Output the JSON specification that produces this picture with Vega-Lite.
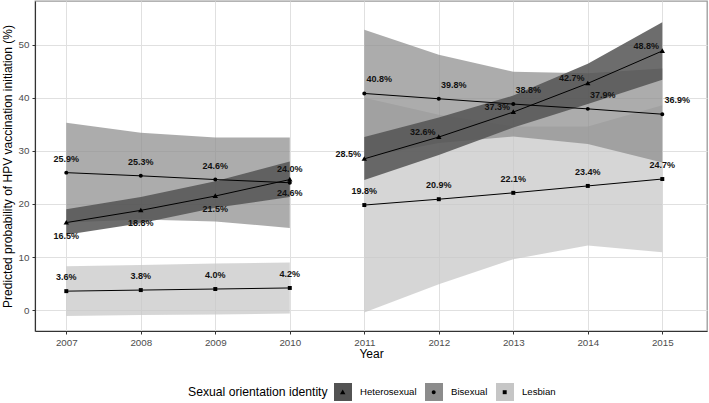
{
  "$schema": "https://vega.github.io/schema/vega-lite/v6.json",
  "width": 672,
  "height": 330,
  "autosize": {"type": "none"},
  "padding": {"left": 35, "top": 1, "right": 2, "bottom": 72},
  "background": "white",
  "data": {
    "values": [
      {"year": 2007, "period": "2007-2010", "group": "Heterosexual", "p": 16.5, "lo": 14.2, "hi": 19.0},
      {"year": 2008, "period": "2007-2010", "group": "Heterosexual", "p": 18.8, "lo": 16.4, "hi": 21.3},
      {"year": 2009, "period": "2007-2010", "group": "Heterosexual", "p": 21.5, "lo": 19.3, "hi": 24.3},
      {"year": 2010, "period": "2007-2010", "group": "Heterosexual", "p": 24.6, "lo": 21.3, "hi": 28.0},
      {"year": 2011, "period": "2011-2015", "group": "Heterosexual", "p": 28.5, "lo": 24.5, "hi": 32.6},
      {"year": 2012, "period": "2011-2015", "group": "Heterosexual", "p": 32.6, "lo": 29.2, "hi": 36.3},
      {"year": 2013, "period": "2011-2015", "group": "Heterosexual", "p": 37.3, "lo": 34.4, "hi": 40.4},
      {"year": 2014, "period": "2011-2015", "group": "Heterosexual", "p": 42.7, "lo": 38.8, "hi": 46.4},
      {"year": 2015, "period": "2011-2015", "group": "Heterosexual", "p": 48.8, "lo": 43.4, "hi": 54.2},
      {"year": 2007, "period": "2007-2010", "group": "Bisexual", "p": 25.9, "lo": 16.5, "hi": 35.3},
      {"year": 2008, "period": "2007-2010", "group": "Bisexual", "p": 25.3, "lo": 17.1, "hi": 33.4},
      {"year": 2009, "period": "2007-2010", "group": "Bisexual", "p": 24.6, "lo": 16.7, "hi": 32.5},
      {"year": 2010, "period": "2007-2010", "group": "Bisexual", "p": 24.0, "lo": 15.5, "hi": 32.5},
      {"year": 2011, "period": "2011-2015", "group": "Bisexual", "p": 40.8, "lo": 28.8, "hi": 52.8},
      {"year": 2012, "period": "2011-2015", "group": "Bisexual", "p": 39.8, "lo": 31.5, "hi": 48.1},
      {"year": 2013, "period": "2011-2015", "group": "Bisexual", "p": 38.8, "lo": 32.7, "hi": 44.9},
      {"year": 2014, "period": "2011-2015", "group": "Bisexual", "p": 37.9, "lo": 31.3, "hi": 44.6},
      {"year": 2015, "period": "2011-2015", "group": "Bisexual", "p": 36.9, "lo": 27.8, "hi": 45.5},
      {"year": 2007, "period": "2007-2010", "group": "Lesbian", "p": 3.6, "lo": -1.1, "hi": 8.3},
      {"year": 2008, "period": "2007-2010", "group": "Lesbian", "p": 3.8, "lo": -0.9, "hi": 8.5},
      {"year": 2009, "period": "2007-2010", "group": "Lesbian", "p": 4.0, "lo": -0.8, "hi": 8.8},
      {"year": 2010, "period": "2007-2010", "group": "Lesbian", "p": 4.2, "lo": -0.6, "hi": 9.0},
      {"year": 2011, "period": "2011-2015", "group": "Lesbian", "p": 19.8, "lo": -0.4, "hi": 40.0},
      {"year": 2012, "period": "2011-2015", "group": "Lesbian", "p": 20.9, "lo": 4.9, "hi": 36.8},
      {"year": 2013, "period": "2011-2015", "group": "Lesbian", "p": 22.1, "lo": 9.6, "hi": 34.6},
      {"year": 2014, "period": "2011-2015", "group": "Lesbian", "p": 23.4, "lo": 12.2, "hi": 34.6},
      {"year": 2015, "period": "2011-2015", "group": "Lesbian", "p": 24.7, "lo": 10.9, "hi": 38.6}
    ]
  },
  "encoding": {
    "x": {
      "field": "year",
      "type": "quantitative",
      "scale": {"domain": [2006.58, 2015.6], "nice": false, "zero": false},
      "axis": {
        "title": "Year",
        "values": [2007, 2008, 2009, 2010, 2011, 2012, 2013, 2014, 2015],
        "format": "d",
        "titlePadding": 2
      }
    }
  },
  "layer": [
    {
      "transform": [{"filter": "datum.group == 'Lesbian'"}],
      "mark": {"type": "area", "fillOpacity": 0.72, "strokeWidth": 0},
      "encoding": {
        "y": {"field": "lo", "type": "quantitative", "title": "Predicted probability of HPV vaccination initiation (%)", "scale": {"domain": [-3.9, 58.2], "nice": false, "zero": false}, "axis": {"values": [0, 10, 20, 30, 40, 50], "titlePadding": 4}},
        "y2": {"field": "hi"},
        "detail": {"field": "period"},
        "fill": {
          "field": "group",
          "type": "nominal",
          "scale": {"domain": ["Heterosexual", "Bisexual", "Lesbian"], "range": ["#535353", "#8c8c8c", "#c6c6c6"]},
          "legend": {"title": "Sexual orientation identity"}
        }
      }
    },
    {
      "transform": [{"filter": "datum.group == 'Bisexual'"}],
      "mark": {"type": "area", "fillOpacity": 0.72, "strokeWidth": 0},
      "encoding": {
        "y": {"field": "lo", "type": "quantitative", "title": "Predicted probability of HPV vaccination initiation (%)"},
        "y2": {"field": "hi"},
        "detail": {"field": "period"},
        "fill": {"field": "group", "type": "nominal"}
      }
    },
    {
      "transform": [{"filter": "datum.group == 'Heterosexual'"}],
      "mark": {"type": "area", "fillOpacity": 0.85, "strokeWidth": 0},
      "encoding": {
        "y": {"field": "lo", "type": "quantitative", "title": "Predicted probability of HPV vaccination initiation (%)"},
        "y2": {"field": "hi"},
        "detail": {"field": "period"},
        "fill": {"field": "group", "type": "nominal"}
      }
    },
    {
      "mark": {"type": "line", "color": "black", "strokeWidth": 1},
      "encoding": {
        "y": {"field": "p", "type": "quantitative", "title": "Predicted probability of HPV vaccination initiation (%)"},
        "detail": [{"field": "group"}, {"field": "period"}]
      }
    },
    {
      "mark": {"type": "point", "filled": true, "color": "black", "size": 324, "opacity": 1, "strokeWidth": 0},
      "encoding": {
        "y": {"field": "p", "type": "quantitative", "title": "Predicted probability of HPV vaccination initiation (%)"},
        "shape": {
          "field": "group",
          "type": "nominal",
          "sort": ["Heterosexual", "Bisexual", "Lesbian"],
          "scale": {"range": [
            "M0,-0.3L0.3,0.22L-0.3,0.22Z",
            "M0.22,0A0.22,0.22,0,1,1,-0.22,0A0.22,0.22,0,1,1,0.22,0Z",
            "M-0.22,-0.22H0.22V0.22H-0.22Z"
          ]},
          "legend": {
            "title": null,
            "legendX": 298.7,
            "labelOpacity": 0,
            "symbolFillColor": "black",
            "symbolStrokeColor": "transparent"
          }
        }
      }
    },
    {
      "transform": [{"filter": "(datum.period == '2007-2010' && datum.group != 'Heterosexual') || (datum.period == '2011-2015' && datum.group == 'Lesbian')"}],
      "mark": {"type": "text", "font": "Liberation Sans", "fontSize": 9, "fontWeight": "bold", "color": "#111111", "dy": -14},
      "encoding": {
        "y": {"field": "p", "type": "quantitative", "title": "Predicted probability of HPV vaccination initiation (%)"},
        "text": {"value": {"expr": "format(datum.p, '.1f') + '%'"}}
      }
    },
    {
      "transform": [{"filter": "datum.period == '2007-2010' && datum.group == 'Heterosexual'"}],
      "mark": {"type": "text", "font": "Liberation Sans", "fontSize": 9, "fontWeight": "bold", "color": "#111111", "dy": 13},
      "encoding": {
        "y": {"field": "p", "type": "quantitative", "title": "Predicted probability of HPV vaccination initiation (%)"},
        "text": {"value": {"expr": "format(datum.p, '.1f') + '%'"}}
      }
    },
    {
      "transform": [{"filter": "datum.period == '2011-2015' && datum.group == 'Bisexual'"}],
      "mark": {"type": "text", "font": "Liberation Sans", "fontSize": 9, "fontWeight": "bold", "color": "#111111", "dx": 15, "dy": -14},
      "encoding": {
        "y": {"field": "p", "type": "quantitative", "title": "Predicted probability of HPV vaccination initiation (%)"},
        "text": {"value": {"expr": "format(datum.p, '.1f') + '%'"}}
      }
    },
    {
      "transform": [{"filter": "datum.period == '2011-2015' && datum.group == 'Heterosexual'"}],
      "mark": {"type": "text", "font": "Liberation Sans", "fontSize": 9, "fontWeight": "bold", "color": "#111111", "dx": -16, "dy": -5},
      "encoding": {
        "y": {"field": "p", "type": "quantitative", "title": "Predicted probability of HPV vaccination initiation (%)"},
        "text": {"value": {"expr": "format(datum.p, '.1f') + '%'"}}
      }
    }
  ],
  "config": {
    "font": "Liberation Sans",
    "view": {"stroke": "#9a9a9a", "strokeWidth": 1.3},
    "axis": {
      "domainColor": "#333333",
      "domainWidth": 1.1,
      "tickColor": "#333333",
      "tickSize": 3,
      "tickWidth": 1,
      "labelFont": "Liberation Sans",
      "labelFontSize": 9.8,
      "labelColor": "#4d4d4d",
      "labelPadding": 3,
      "titleFont": "Liberation Sans",
      "titleFontSize": 12,
      "titleFontWeight": "normal",
      "titleColor": "#000000",
      "grid": true,
      "gridColor": "#e0e0e0",
      "gridWidth": 1
    },
    "legend": {
      "orient": "none",
      "legendX": 153,
      "legendY": 382,
      "direction": "horizontal",
      "titleOrient": "left",
      "titleAnchor": "middle",
      "titleBaseline": "middle",
      "titleFont": "Liberation Sans",
      "titleFontSize": 12.2,
      "titleFontWeight": "normal",
      "titleColor": "#000000",
      "titlePadding": 6,
      "titleLimit": 300,
      "labelFont": "Liberation Sans",
      "labelFontSize": 9.6,
      "labelColor": "#000000",
      "labelOffset": 8,
      "columnPadding": 8,
      "symbolType": "square",
      "symbolSize": 324,
      "symbolStrokeWidth": 0,
      "symbolOpacity": 1,
      "padding": 0
    }
  }
}
